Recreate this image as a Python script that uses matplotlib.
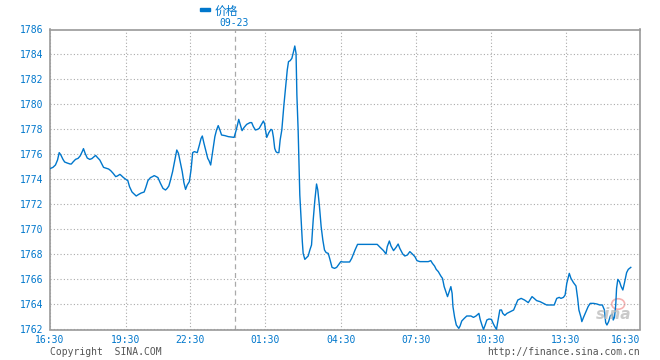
import matplotlib
matplotlib.use('Agg')
import matplotlib.pyplot as plt
from matplotlib.patches import Ellipse

plt.rcParams['font.family'] = ['DejaVu Sans Mono', 'Noto Sans CJK SC']

# minutes since 16:30 (trading time axis), price
minutes = [0, 7, 13, 18, 22, 26, 31, 35, 41, 48, 51, 55, 61, 67, 72, 77, 80, 84, 89, 95,
           100, 107, 109, 113, 119, 123, 128, 135, 140, 145, 151, 157, 161, 167, 170, 175, 180, 186, 190, 196,
           201, 206, 212, 218, 225, 229, 234, 240, 245, 249, 254, 258, 264, 270, 276, 280, 284,
           287, 293, 299, 303, 307, 311, 316, 320, 324, 328, 333, 337, 341, 345, 352, 357, 361, 364, 368,
           373, 377, 380, 384, 387, 390, 394, 398, 402, 406, 410, 418, 426, 440, 444, 448, 451, 455, 459, 464,
           470, 478, 482, 486, 491, 496, 500, 506, 510, 513, 515, 518, 523, 528, 531, 534, 537, 540, 543, 547,
           550, 554, 559, 564, 567, 570, 574, 578, 582, 585, 588, 590, 593,
           597, 600, 603, 605, 609, 613, 617, 621, 625, 629, 633, 637, 640, 644, 648, 652, 656, 660, 665, 669,
           674, 680, 685, 691, 695, 701, 716, 721, 729, 735, 749, 782, 789, 797, 803, 806, 811, 815, 821, 827, 832,
           836, 843, 848, 854, 860, 866, 872, 877, 884, 904, 910, 914, 919, 923, 928, 934, 938, 942, 946, 950,
           954, 958, 961, 963, 967, 971, 977, 980, 984, 990, 996, 1006, 1012, 1018, 1025, 1028, 1033, 1036, 1040, 1044,
           1049, 1055, 1059, 1063, 1067, 1071, 1075, 1079, 1082, 1087, 1092, 1100, 1108,
           1118, 1126, 1134, 1143, 1147, 1152, 1157, 1163, 1171, 1179, 1187, 1205, 1211, 1217, 1221, 1227, 1231, 1235,
           1241, 1245, 1251, 1257, 1261, 1264, 1269, 1271, 1275, 1281, 1286, 1291, 1299, 1307, 1314, 1320, 1325, 1328,
           1331, 1335, 1339, 1344, 1346, 1349, 1352, 1354, 1357, 1361, 1365, 1369, 1373, 1378, 1382, 1388]

prices = [1774.87, 1774.97, 1775.16, 1775.56, 1776.15, 1775.96, 1775.61, 1775.40, 1775.32, 1775.24,
          1775.24, 1775.40, 1775.61, 1775.69, 1775.88, 1776.23, 1776.47, 1776.09, 1775.72, 1775.61,
          1775.67, 1775.88, 1775.93, 1775.77, 1775.56, 1775.29, 1774.97, 1774.89, 1774.84, 1774.71,
          1774.49, 1774.23, 1774.28, 1774.41, 1774.33, 1774.17, 1774.04, 1773.91, 1773.43, 1773.00,
          1772.84, 1772.68, 1772.81, 1772.92, 1773.00, 1773.37, 1773.91, 1774.15, 1774.23, 1774.31,
          1774.23, 1774.15, 1773.69, 1773.29, 1773.16, 1773.29, 1773.48,
          1773.83, 1774.63, 1775.69, 1776.36, 1776.09, 1775.43, 1774.63, 1773.75, 1773.21, 1773.56,
          1773.83, 1774.76, 1776.15, 1776.23, 1776.15, 1776.76, 1777.29, 1777.48, 1776.89,
          1776.23, 1775.69, 1775.51, 1775.16, 1775.83, 1776.49, 1777.43, 1777.96, 1778.31, 1777.96,
          1777.56, 1777.51, 1777.43, 1777.37, 1777.83, 1778.36, 1778.81, 1778.36, 1777.91, 1778.17,
          1778.41, 1778.55, 1778.55, 1778.23, 1777.96, 1778.01, 1778.09, 1778.44, 1778.68, 1778.44,
          1777.96, 1777.37, 1777.75, 1778.01, 1777.96, 1777.37, 1776.49, 1776.23, 1776.15, 1776.15,
          1777.16, 1777.96, 1779.96, 1781.75, 1782.76, 1783.43, 1783.51, 1783.69, 1784.23, 1784.68,
          1784.09, 1780.76, 1777.96,
          1772.76, 1770.89, 1769.03, 1768.09, 1767.61, 1767.75, 1767.88, 1768.36, 1768.76, 1770.76,
          1772.36, 1773.64, 1773.16, 1771.83, 1770.23, 1769.16, 1768.36, 1768.15, 1768.09, 1767.61,
          1766.97, 1766.89, 1766.97, 1767.24, 1767.43, 1767.40, 1767.40, 1767.69, 1768.36, 1768.81,
          1768.81, 1768.81, 1768.57, 1768.31, 1768.04, 1768.63, 1769.08, 1768.68, 1768.31, 1768.57, 1768.84,
          1768.49, 1768.04, 1767.88, 1767.96, 1768.23, 1768.04, 1767.83, 1767.51, 1767.43, 1767.43,
          1767.51, 1767.29, 1767.08, 1766.81, 1766.63, 1766.28, 1766.09, 1765.43, 1765.03, 1764.63,
          1765.03, 1765.43, 1764.89, 1763.83, 1762.97, 1762.36, 1762.09, 1762.28, 1762.68, 1762.89,
          1763.08, 1763.08, 1762.97, 1763.08, 1763.29, 1762.81, 1762.28, 1762.01, 1762.36, 1762.76,
          1762.84, 1762.81, 1762.49, 1762.23, 1762.01, 1762.76, 1763.56, 1763.56, 1763.29, 1763.13,
          1763.29, 1763.43, 1763.56,
          1764.36, 1764.49, 1764.36, 1764.15, 1764.36, 1764.63, 1764.49, 1764.31, 1764.23, 1764.09,
          1763.96, 1763.96, 1764.49, 1764.57, 1764.49, 1764.57, 1764.76, 1765.69, 1766.49, 1766.09,
          1765.75, 1765.48, 1764.49, 1763.56, 1762.97, 1762.63, 1762.97, 1763.43, 1763.83, 1764.09,
          1764.09, 1764.04, 1763.96, 1763.96, 1763.56, 1762.55, 1762.36, 1762.63, 1763.08, 1763.24,
          1762.76, 1762.97, 1763.96, 1765.29, 1766.01, 1765.83, 1765.43, 1765.16, 1765.75, 1766.55,
          1766.81, 1766.97]

tick_labels = ['16:30', '19:30', '22:30', '01:30', '04:30', '07:30', '10:30', '13:30', '16:30']
tick_minutes = [0, 181, 335, 515, 695, 875, 1053, 1232, 1410]
day_break = 442
y_ticks = list(range(1762, 1787, 2))

blue = '#0077cc'
grey = '#9a9a9a'

fig = plt.figure(figsize=(6.6, 3.6), dpi=100)
ax = fig.add_axes([50 / 660, 1 - 329.5 / 360, 590 / 660, 300 / 360])

ax.plot(minutes, prices, color=blue, lw=1.0, zorder=3)

ax.set_xlim(0, 1410)
ax.set_ylim(1762, 1786)
ax.set_xticks(tick_minutes)
ax.set_xticklabels(tick_labels)
ax.set_yticks(y_ticks)
ax.tick_params(length=0, labelsize=7, colors=blue, pad=5)
ax.tick_params(axis='x', pad=4)
ax.get_xticklabels()[-1].set_ha('right')

# dotted grid + dashed day line
ax.grid(True, color='#aaaaaa', linestyle=(0, (1, 2)), lw=0.8)
ax.axvline(day_break, color='#aaaaaa', linestyle=(0, (4, 3)), lw=0.9)

for s in ax.spines.values():
    s.set_color(grey)
    s.set_linewidth(1.2)

# legend at top
fig.patches.append(plt.Rectangle((200 / 660, 1 - 11 / 360), 10 / 660, 3.5 / 360,
                                 transform=fig.transFigure, color=blue))
fig.text(215 / 660, 1 - 11 / 360, '价格', color=blue, fontsize=8.5, va='center',
         family=['Noto Sans CJK SC', 'DejaVu Sans'])
fig.text(219 / 660, 1 - 23 / 360, '09-23', color=blue, fontsize=7, va='center')

# footer
fig.text(50 / 660, 1 - 352 / 360, 'Copyright  SINA.COM', color='#555555', fontsize=7, va='center')
fig.text(640 / 660, 1 - 352 / 360, 'http://finance.sina.com.cn', color='#555555', fontsize=7,
         va='center', ha='right')

# sina watermark (grey word + pink eye)
ax.text(0.985, 0.025, 'sina', transform=ax.transAxes, ha='right', va='bottom', fontsize=11,
        fontweight='bold', fontstyle='italic', color='#bdbdbd', alpha=0.8,
        family=['DejaVu Sans'])
ax.add_patch(Ellipse((0.963, 0.085), 0.022, 0.035, transform=ax.transAxes,
                     fill=False, ec='#f08080', lw=1.2, alpha=0.6))

fig.savefig('out.png', dpi=100)
